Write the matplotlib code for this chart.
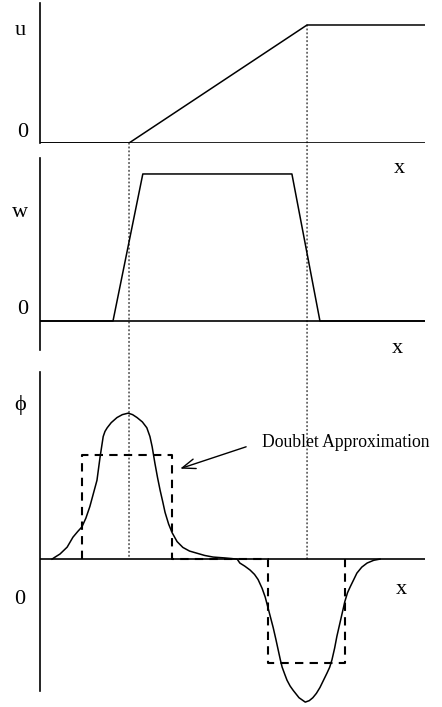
import matplotlib
matplotlib.use("Agg")
import matplotlib.pyplot as plt
from matplotlib.patches import ConnectionPatch

plt.rcParams['font.family'] = ['Liberation Serif', 'DejaVu Serif']

# velocity u: zero, linear ramp between x_a and x_b, then constant
x_a, x_b, x_end = 2.0, 6.0, 8.65
u_x = [0.0, x_a, x_b, x_end]
u_y = [0.0, 0.0, 1.0, 1.0]

# weight w: trapezoid
w_x = [0.0, 1.64, 2.31, 5.66, 6.29, x_end]
w_y = [0.0, 0.0, 1.0, 1.0, 0.0, 0.0]

# phi: positive bump near x_a, negative bump near x_b
phi_x = [0.27, 0.34, 0.45, 0.61, 0.74, 0.85, 0.94, 1.03, 1.12, 1.20, 1.28,
         1.35, 1.42, 1.46, 1.51, 1.60, 1.73, 1.85, 1.98, 2.08, 2.18, 2.30,
         2.40, 2.47, 2.52, 2.58, 2.64, 2.70, 2.76, 2.81, 2.89, 2.97, 3.08,
         3.21, 3.36, 3.53, 3.70, 3.89, 4.15, 4.43,
         4.49, 4.60, 4.72, 4.82, 4.90, 4.99, 5.06, 5.12, 5.18, 5.24, 5.30,
         5.35, 5.40, 5.44, 5.50, 5.55, 5.62, 5.69, 5.82, 5.96, 6.05, 6.13,
         6.21, 6.29, 6.37, 6.45, 6.51, 6.56, 6.62, 6.67, 6.73, 6.79, 6.85,
         6.91, 6.97, 7.05, 7.12, 7.23, 7.35, 7.50, 7.64]
phi_y = [0.0, 0.014, 0.035, 0.082, 0.15, 0.19, 0.22, 0.28, 0.36, 0.45, 0.54,
         0.70, 0.84, 0.875, 0.90, 0.935, 0.97, 0.99, 1.0, 0.99, 0.97, 0.94,
         0.90, 0.84, 0.77, 0.66, 0.56, 0.47, 0.39, 0.32, 0.24, 0.18, 0.12,
         0.08, 0.055, 0.04, 0.025, 0.014, 0.008, 0.0,
         -0.027, -0.048, -0.075, -0.105, -0.14, -0.20, -0.26, -0.33, -0.40,
         -0.47, -0.55, -0.62, -0.69, -0.74, -0.79, -0.83, -0.87, -0.90,
         -0.95, -0.98, -0.97, -0.95, -0.92, -0.88, -0.83, -0.78, -0.74,
         -0.69, -0.61, -0.53, -0.45, -0.37, -0.29, -0.23, -0.19, -0.14,
         -0.096, -0.055, -0.027, -0.008, 0.0]

# doublet approximation (two rectangular blocks)
dbl_x = [0.94, 0.94, 2.97, 2.97, 5.12, 5.12, 6.85, 6.85]
dbl_y = [0.0, 0.71, 0.71, 0.0, 0.0, -0.71, -0.71, 0.0]

lw = 1.1
lab_fs = 16

fig = plt.figure(figsize=(4.42, 7.07), dpi=100)
ax_u = fig.add_axes([0.0905, 0.7977, 0.871, 0.198])
ax_w = fig.add_axes([0.0905, 0.505, 0.871, 0.2716])
ax_p = fig.add_axes([0.0905, 0.0226, 0.871, 0.451])

for ax in (ax_u, ax_w, ax_p):
    for s in ('top', 'right', 'bottom'):
        ax.spines[s].set_visible(False)
    ax.spines['left'].set_linewidth(1.2)
    ax.set_xticks([])
    ax.set_yticks([])
    ax.set_xlim(0, x_end)
    ax.patch.set_alpha(0)
    ax.axhline(0, color='black', lw=1.2)

ax_u.set_ylim(0, 1.186)
ax_w.set_ylim(-0.197, 1.109)
ax_p.set_ylim(-0.904, 1.281)

ax_u.plot(u_x, u_y, color='black', lw=lw)
ax_w.plot(w_x, w_y, color='black', lw=lw)
ax_p.plot(phi_x, phi_y, color='black', lw=lw, clip_on=False)
ax_p.plot(dbl_x, dbl_y, color='black', lw=1.5, ls=(0, (4, 3)))

# dotted guides running from the u panel down to the phi axis
for xv, yv in ((x_a, 0.0), (x_b, 1.0)):
    con = ConnectionPatch(xyA=(xv, yv), coordsA=ax_u.transData,
                          xyB=(xv, 0.0), coordsB=ax_p.transData,
                          color='black', lw=0.8, ls=(0, (1, 2.5)))
    fig.add_artist(con)

ax_u.text(-0.45, 0.95, 'u', fontsize=lab_fs, ha='center', va='center')
ax_u.text(-0.40, 0.093, '0', fontsize=lab_fs, ha='center', va='center')
ax_w.text(-0.45, 0.735, 'w', fontsize=lab_fs, ha='center', va='center')
ax_w.text(-0.40, 0.075, '0', fontsize=lab_fs, ha='center', va='center')
ax_w.text(8.07, 1.04, 'x', fontsize=lab_fs, ha='center', va='center')
ax_w.text(8.02, -0.184, 'x', fontsize=lab_fs, ha='center', va='center')
ax_p.text(-0.45, 1.055, '\u03d5', fontsize=lab_fs, ha='center', va='center')
ax_p.text(-0.45, -0.28, '0', fontsize=lab_fs, ha='center', va='center')
ax_p.text(8.13, -0.205, 'x', fontsize=lab_fs, ha='center', va='center')

ax_p.annotate('Doublet Approximation', xy=(3.15, 0.62), xytext=(4.99, 0.80),
              fontsize=12.7, ha='left', va='center',
              arrowprops=dict(arrowstyle='->,head_length=0.75,head_width=0.28',
                              color='black', lw=1.0, relpos=(0, 0.55),
                              shrinkA=10, shrinkB=0))

fig.savefig('out.png', dpi=100)
